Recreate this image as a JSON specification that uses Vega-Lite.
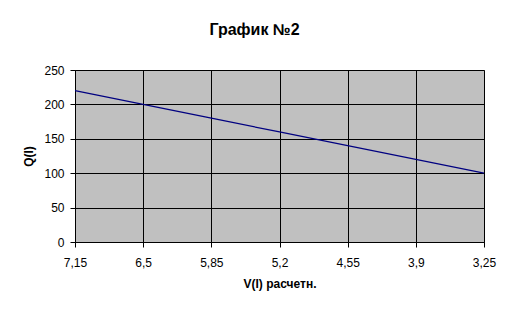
{
  "$schema": "https://vega.github.io/schema/vega-lite/v6.json",
  "width": 409,
  "height": 172,
  "autosize": {"type": "none"},
  "padding": {"left": 75, "top": 70, "right": 29, "bottom": 73},
  "background": "white",
  "title": {
    "text": "График №2",
    "font": "Liberation Sans",
    "fontSize": 16,
    "fontWeight": "bold",
    "color": "black",
    "anchor": "middle",
    "dx": -25,
    "offset": 26
  },
  "data": {
    "values": [
      {"V": 7.15, "Q": 220},
      {"V": 6.5, "Q": 200},
      {"V": 5.85, "Q": 180},
      {"V": 5.2, "Q": 160},
      {"V": 4.55, "Q": 140},
      {"V": 3.9, "Q": 120},
      {"V": 3.25, "Q": 100}
    ]
  },
  "mark": {"type": "line", "color": "#000080", "strokeWidth": 1.2},
  "encoding": {
    "x": {
      "field": "V",
      "type": "quantitative",
      "scale": {"domain": [3.25, 7.15], "reverse": true, "nice": false, "zero": false},
      "axis": {
        "title": "V(I) расчетн.",
        "values": [7.15, 6.5, 5.85, 5.2, 4.55, 3.9, 3.25],
        "labelExpr": "replace(format(datum.value, '.2~f'), '.', ',')",
        "labelFlush": false,
        "labelPadding": 10,
        "titlePadding": 10
      }
    },
    "y": {
      "field": "Q",
      "type": "quantitative",
      "scale": {"domain": [0, 250], "nice": false},
      "axis": {
        "title": "Q(I)",
        "values": [0, 50, 100, 150, 200, 250],
        "labelFlush": false,
        "labelPadding": 6,
        "titlePadding": 8
      }
    }
  },
  "config": {
    "font": "Liberation Sans",
    "view": {"fill": "#C0C0C0", "stroke": "#808080", "strokeWidth": 1},
    "axis": {
      "domainColor": "black",
      "domainWidth": 1,
      "gridColor": "black",
      "gridWidth": 1,
      "gridOpacity": 1,
      "tickColor": "black",
      "tickSize": 5,
      "tickWidth": 1,
      "labelFont": "Liberation Sans",
      "labelFontSize": 12,
      "labelColor": "black",
      "titleFont": "Liberation Sans",
      "titleFontSize": 12,
      "titleFontWeight": "bold",
      "titleColor": "black"
    }
  }
}
